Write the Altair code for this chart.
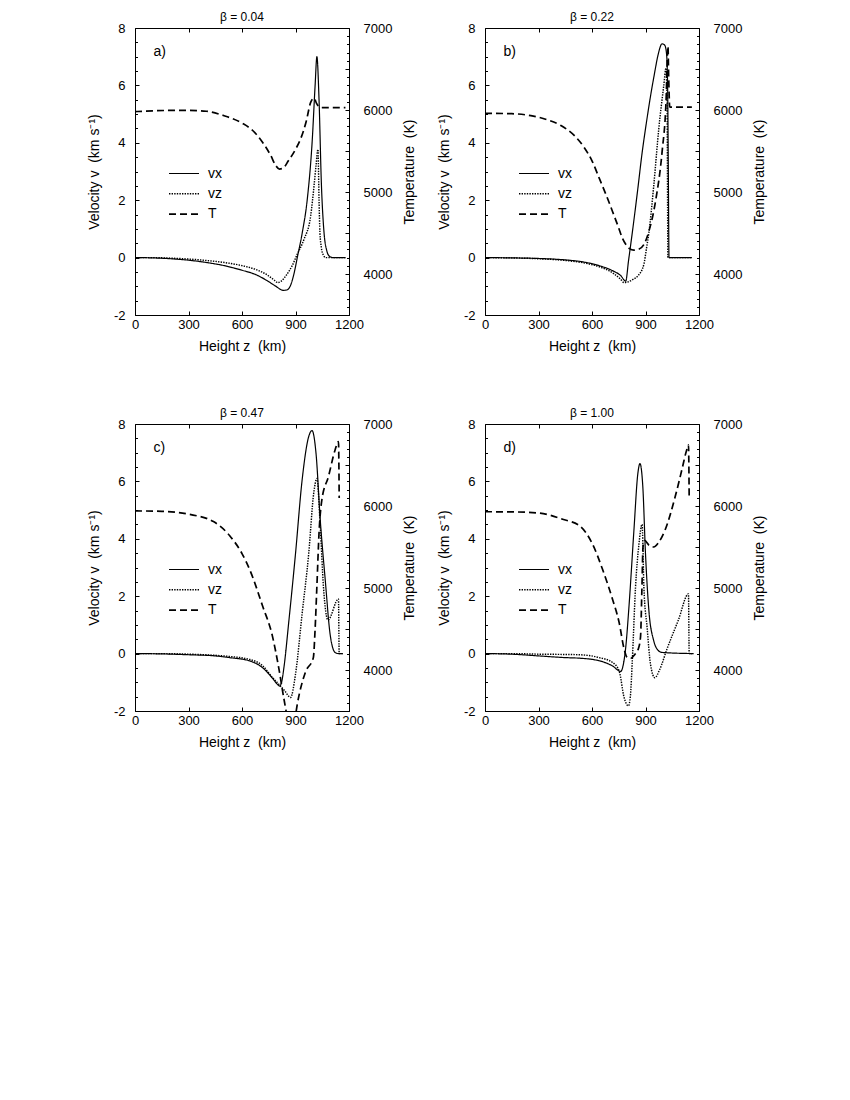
import altair as alt
import pandas as pd

# ---------------- data ----------------
SERIES = ["vx", "vz", "T"]

# panel a  (beta = 0.04)
A_VX_Z = [0, 100, 200, 300, 400, 500, 600, 680, 740, 790, 830, 850, 870, 890, 910, 938, 966, 994, 1010, 1020, 1032, 1045, 1060, 1075, 1090, 1110, 1180]
A_VX = [0, -0.01, -0.04, -0.09, -0.17, -0.28, -0.44, -0.6, -0.8, -1.0, -1.14, -1.13, -1.0, -0.6, 0.0, 0.87, 2.03, 4.1, 6.0, 7.0, 5.5, 2.6, 0.87, 0.25, 0.05, 0.0, 0.0]
A_VZ_Z = [0, 100, 200, 300, 400, 500, 600, 680, 740, 780, 800, 820, 850, 880, 910, 948, 985, 1004, 1015, 1026, 1032, 1037, 1045, 1055, 1069, 1180]
A_VZ = [0, 0, -0.02, -0.05, -0.1, -0.17, -0.28, -0.42, -0.6, -0.78, -0.87, -0.82, -0.6, -0.3, 0.12, 0.64, 1.45, 2.5, 3.2, 3.77, 2.0, 0.87, 0.35, 0.1, 0.0, 0.0]
A_T_Z = [0, 100, 200, 300, 400, 500, 600, 660, 714, 760, 790, 810, 830, 860, 900, 929, 960, 985, 1004, 1018, 1032, 1050, 1180]
A_T = [5980, 5990, 5995, 5995, 5985, 5930, 5840, 5750, 5610, 5450, 5320, 5280, 5290, 5380, 5520, 5650, 5860, 6093, 6145, 6080, 6040, 6030, 6030]

# panel b  (beta = 0.22)
B_VX_Z = [0, 150, 300, 450, 550, 650, 720, 760, 789, 805, 826, 855, 881, 905, 928, 950, 970, 993, 1008, 1018, 1024, 1028, 1032, 1160]
B_VX = [0, -0.01, -0.03, -0.08, -0.15, -0.3, -0.47, -0.62, -0.82, -0.1, 0.87, 2.3, 3.65, 4.7, 5.62, 6.4, 7.05, 7.45, 7.4, 7.1, 6.0, 3.0, 0.0, 0.0]
B_VZ_Z = [0, 150, 300, 450, 550, 650, 720, 760, 780, 800, 830, 860, 891, 905, 919, 946, 974, 1002, 1015, 1021, 1026, 1160]
B_VZ = [0, -0.01, -0.04, -0.1, -0.18, -0.34, -0.55, -0.75, -0.87, -0.85, -0.76, -0.62, -0.23, 0.3, 0.87, 2.49, 4.46, 5.97, 6.6, 5.5, 0.0, 0.0]
B_T_Z = [0, 150, 257, 350, 426, 500, 557, 600, 641, 680, 715, 750, 770, 790, 810, 835, 860, 891, 919, 956, 993, 1015, 1026, 1030, 1036, 1160]
B_T = [5960, 5955, 5931, 5880, 5810, 5690, 5540, 5380, 5166, 4960, 4763, 4560, 4440, 4360, 4310, 4290, 4300, 4359, 4521, 4884, 5489, 6093, 6778, 6400, 6035, 6035]

# panel c  (beta = 0.47)
C_VX_Z = [0, 150, 300, 450, 530, 641, 715, 770, 800, 811, 822, 835, 863, 900, 937, 974, 993, 1015, 1039, 1067, 1094, 1122, 1140, 1165]
C_VX = [0, -0.01, -0.04, -0.08, -0.14, -0.25, -0.49, -0.85, -1.08, -1.13, -1.0, -0.49, 1.15, 3.48, 6.04, 7.56, 7.77, 6.98, 4.64, 2.55, 0.68, 0.04, 0.0, 0.0]
C_VZ_Z = [0, 150, 300, 450, 530, 641, 715, 770, 811, 840, 872, 900, 937, 974, 1002, 1020, 1039, 1057, 1082, 1141, 1145, 1165]
C_VZ = [0, 0, -0.02, -0.06, -0.1, -0.2, -0.42, -0.83, -1.1, -1.3, -1.53, -0.72, 1.38, 3.48, 5.58, 6.1, 4.41, 2.31, 1.17, 1.9, 0.0, 0.0]
C_T_Z = [0, 150, 300, 440, 530, 600, 650, 715, 770, 807, 835, 860, 880, 900, 909, 956, 1000, 1010, 1020, 1033, 1048, 1085, 1122, 1141, 1145]
C_T = [5940, 5935, 5900, 5810, 5640, 5420, 5188, 4783, 4419, 4014, 3650, 3380, 3320, 3450, 3569, 3975, 4150, 4500, 5026, 5714, 6078, 6361, 6684, 6785, 6098]

# panel d  (beta = 1.00)
D_VX_Z = [0, 150, 300, 450, 530, 641, 715, 761, 775, 789, 807, 835, 857, 869, 885, 900, 919, 946, 970, 993, 1170]
D_VX = [0, -0.02, -0.08, -0.14, -0.16, -0.25, -0.43, -0.62, -0.4, 0.21, 1.61, 4.29, 6.27, 6.62, 5.81, 3.48, 1.5, 0.45, 0.12, 0.04, 0.0]
D_VZ_Z = [0, 150, 300, 450, 530, 641, 715, 752, 780, 804, 815, 826, 844, 863, 881, 891, 909, 928, 952, 980, 1020, 1085, 1141, 1145, 1165]
D_VZ = [0, 0, -0.02, -0.03, -0.04, -0.14, -0.31, -0.6, -1.53, -1.82, -1.5, -0.25, 2.31, 3.8, 4.5, 2.31, 0.91, -0.37, -0.84, -0.55, 0.15, 1.18, 2.08, 0.0, 0.0]
D_T_Z = [0, 150, 300, 440, 530, 604, 659, 715, 752, 780, 795, 815, 840, 860, 872, 880, 886, 895, 920, 946, 975, 1011, 1067, 1104, 1131, 1141, 1145]
D_T = [5930, 5928, 5915, 5835, 5760, 5530, 5228, 4864, 4581, 4257, 4160, 4140, 4190, 4260, 4400, 5000, 5500, 5580, 5520, 5500, 5560, 5714, 6118, 6442, 6684, 6745, 6078]

BETAS = ["β = 0.04", "β = 0.22", "β = 0.47", "β = 1.00"]
TAGS = ["a)", "b)", "c)", "d)"]

NB = "\u00a0"
X_TITLE = "Height z" + NB + NB + "(km)"
V_TITLE = "Velocity v" + NB + NB + "(km s⁻¹)"
T_TITLE = "Temperature" + NB + NB + "(K)"

X_TICKS = [0, 300, 600, 900, 1200]
V_TICKS = [-2, 0, 2, 4, 6, 8]
V_MINOR = [x / 2 for x in range(-4, 17)]
T_TICKS = list(range(3500, 7001, 500))
T_MINOR = list(range(3500, 7001, 100))

FONT = "Liberation Sans"


def panel(vx_z, vx, vz_z, vz, t_z, t, beta, tag):
    dv = pd.concat([
        pd.DataFrame({"z": vx_z, "v": vx, "series": "vx"}),
        pd.DataFrame({"z": vz_z, "v": vz, "series": "vz"}),
    ], ignore_index=True)
    dt = pd.DataFrame({"z": t_z, "T": t, "series": "T"})

    xs = alt.Scale(domain=[0, 1200], nice=False, zero=False)
    vs = alt.Scale(domain=[-2, 8], nice=False, zero=False)
    ts = alt.Scale(domain=[3500, 7000], nice=False, zero=False)

    legend = alt.Legend(
        orient="none", legendX=42, legendY=138.5, direction="vertical",
        title=None, symbolType="M-3,0H3", symbolSize=100,
        symbolStrokeWidth=1.5, symbolStrokeColor="black",
        labelFontSize=14, labelOffset=17, rowPadding=6.3, padding=0,
        labelFont=FONT, labelColor="black",
    )
    dash = alt.StrokeDash("series:N", scale=alt.Scale(domain=SERIES, range=[[1, 0], [1.4, 1.2], [7, 4]]), legend=legend)
    width = alt.StrokeWidth("series:N", scale=alt.Scale(domain=SERIES, range=[1.2, 1.7, 1.6]), legend=None)

    lv = alt.Chart(dv).mark_line(color="black", clip=True, interpolate="monotone").encode(
        x=alt.X("z:Q", scale=xs, axis=alt.Axis(
            orient="bottom", values=X_TICKS, offset=-4, tickSize=4, labelPadding=3,
            labelExpr="'' + datum.value", title=X_TITLE, titlePadding=8)),
        y=alt.Y("v:Q", scale=vs, axis=alt.Axis(
            orient="left", values=V_TICKS, offset=-4, tickSize=4, labelPadding=10,
            labelExpr="'' + datum.value", title=V_TITLE, titlePadding=12)),
        strokeDash=dash, strokeWidth=width,
    )
    lt = alt.Chart(dt).mark_line(color="black", clip=True, interpolate="monotone").encode(
        x=alt.X("z:Q", scale=xs, axis=alt.Axis(
            orient="top", values=[300, 600, 900], offset=-4, tickSize=4, labels=False, title=None)),
        y=alt.Y("T:Q", scale=ts, axis=alt.Axis(
            orient="right", values=T_TICKS, offset=-4, tickSize=4, labelPadding=14,
            labelExpr="datum.value % 1000 == 0 ? '' + datum.value : ''",
            title=T_TITLE, titlePadding=11, titleAngle=270, titleBaseline="top")),
        strokeDash=dash, strokeWidth=width,
    )
    lmv = alt.Chart(dv).mark_line(opacity=0).encode(
        x=alt.X("z:Q", scale=xs, axis=alt.Axis(
            orient="top", ticks=False, labels=False, title=tag, titleX=18, titleY=27,
            titleAlign="left", titleBaseline="alphabetic", titleAngle=0, titleFontSize=14)),
        y=alt.Y("v:Q", scale=vs, axis=alt.Axis(
            orient="left", values=V_MINOR, offset=-2.5, tickSize=2.5, labels=False, title=None)),
    )
    lmt = alt.Chart(dt).mark_line(opacity=0).encode(
        x=alt.X("z:Q", scale=xs, axis=None),
        y=alt.Y("T:Q", scale=ts, axis=alt.Axis(
            orient="right", values=T_MINOR, offset=-2.5, tickSize=2.5, labels=False, title=None)),
    )
    return alt.layer(lv, lt, lmv, lmt).resolve_scale(y="independent").resolve_axis(
        x="independent", y="independent"
    ).properties(
        width=214, height=287,
        title=alt.TitleParams(beta, anchor="middle", frame="group", fontSize=12,
                              fontWeight="normal", offset=-2, font=FONT, color="black"),
    )


pa = panel(A_VX_Z, A_VX, A_VZ_Z, A_VZ, A_T_Z, A_T, BETAS[0], TAGS[0])
pb = panel(B_VX_Z, B_VX, B_VZ_Z, B_VZ, B_T_Z, B_T, BETAS[1], TAGS[1])
pc = panel(C_VX_Z, C_VX, C_VZ_Z, C_VZ, C_T_Z, C_T, BETAS[2], TAGS[2])
pd_ = panel(D_VX_Z, D_VX, D_VZ_Z, D_VZ, D_T_Z, D_T, BETAS[3], TAGS[3])

chart = alt.concat(
    pa, pb, pc, pd_, columns=2, spacing={"row": 109, "column": 136}, bounds="flush"
).resolve_scale(strokeDash="independent", strokeWidth="independent").properties(
    padding={"left": 78, "top": 2, "right": 5, "bottom": 5}
).configure(font=FONT).configure_view(
    stroke="black", strokeWidth=1
).configure_axis(
    grid=False, domain=False, tickColor="black", tickWidth=1,
    labelColor="black", titleColor="black", labelFontSize=13, titleFontSize=14,
    titleFontWeight="normal", labelFlush=False, labelOverlap=False, labelFont=FONT, titleFont=FONT,
)

chart.save("out.html", embed_options={"renderer": "svg", "actions": False})
